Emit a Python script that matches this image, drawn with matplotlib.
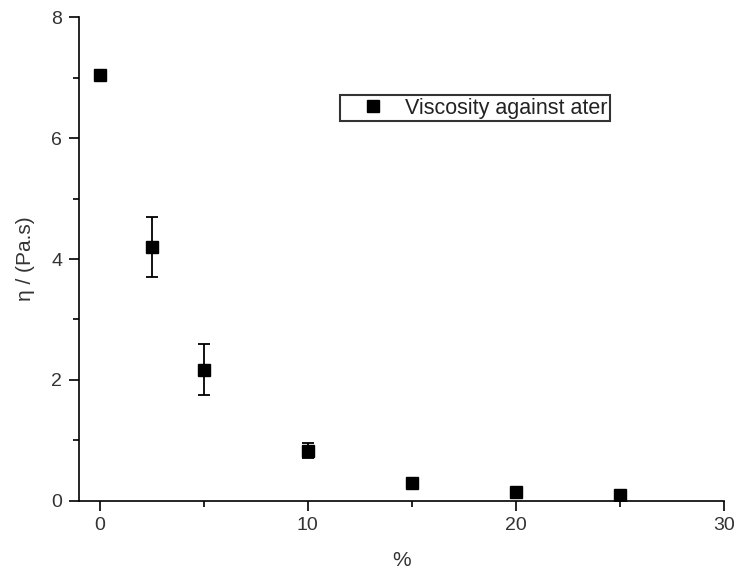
import matplotlib
matplotlib.use('Agg')
import matplotlib.pyplot as plt
from matplotlib.lines import Line2D
from matplotlib.ticker import MultipleLocator

# ── Data ──────────────────────────────────────────────────────────────────────
conc      = [0, 2.5, 5, 10, 15, 20, 25]                 # %
viscosity = [7.05, 4.20, 2.17, 0.83, 0.30, 0.15, 0.09]  # Pa.s
err       = [0.0, 0.50, 0.42, 0.12, 0.02, 0.03, 0.02]
series_label = 'Viscosity against ater'

plt.rcParams['font.family'] = ['Liberation Sans', 'DejaVu Sans']

fig = plt.figure(figsize=(7.35, 5.75), dpi=100)
ax = fig.add_axes([0.1075, 0.129, 0.8775, 0.841])

ax.errorbar(conc, viscosity, yerr=err, fmt='s', color='black',
            markersize=8, elinewidth=1.3, capsize=4, capthick=1.3)

ax.set_xlim(-1, 30)
ax.set_ylim(0, 8)
ax.xaxis.set_major_locator(MultipleLocator(10))
ax.xaxis.set_minor_locator(MultipleLocator(5))
ax.yaxis.set_major_locator(MultipleLocator(2))
ax.yaxis.set_minor_locator(MultipleLocator(1))

for side in ('top', 'right'):
    ax.spines[side].set_visible(False)
for side in ('left', 'bottom'):
    ax.spines[side].set_linewidth(1.2)

ax.tick_params(which='major', direction='out', length=7, width=1.2,
               labelsize=14, labelcolor='#333333', pad=5)
ax.tick_params(which='minor', direction='out', length=4, width=1.2)

ax.set_xlabel('%', fontsize=15, color='#333333', labelpad=12)
ax.set_ylabel('η / (Pa.s)', fontsize=15, color='#333333', labelpad=12)

handle = Line2D([], [], marker='s', color='black', linestyle='none',
                markersize=8)
leg = ax.legend(handles=[handle], labels=[series_label],
                loc='upper left', bbox_to_anchor=(340 / 735, 1 - 95 / 575),
                bbox_transform=fig.transFigure, fontsize=15.5, frameon=True,
                fancybox=False, borderpad=0.12, handlelength=2.8,
                handletextpad=0.1, borderaxespad=0)
leg.get_frame().set_edgecolor('black')
leg.get_frame().set_linewidth(1.5)
for t in leg.get_texts():
    t.set_color('#222222')

fig.savefig('out.png', dpi=100)
